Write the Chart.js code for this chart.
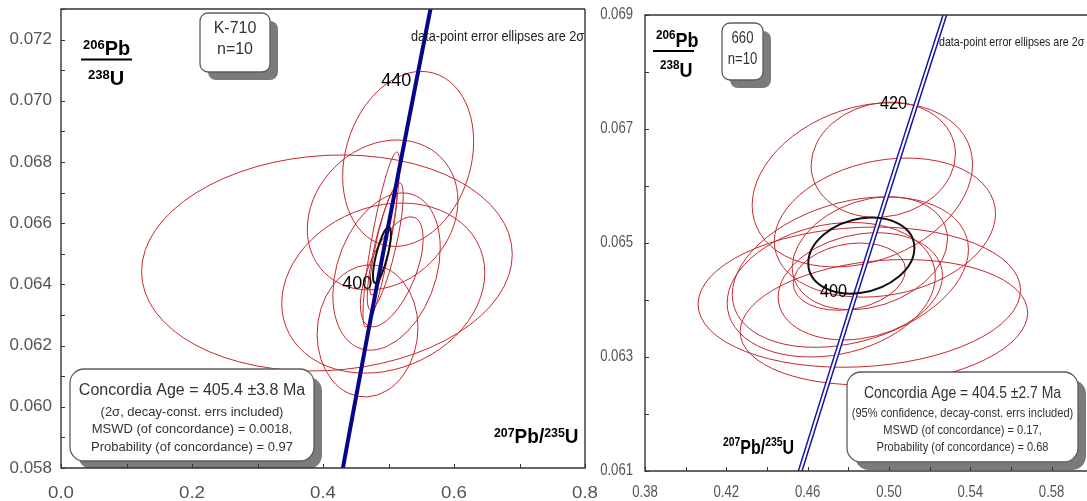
<!DOCTYPE html>
<html>
<head>
<meta charset="utf-8">
<script src="https://cdn.jsdelivr.net/npm/chart.js@4.4.1/dist/chart.umd.min.js"></script>
<style>
  html, body { margin: 0; padding: 0; background: #fff; }
  #wrap { position: relative; width: 1087px; height: 501px; overflow: hidden; }
  #leftBox { position: absolute; left: 0; top: 0; width: 600px; height: 501px; }
  #rightBox { position: absolute; left: 590px; top: 0; width: 497px; height: 501px; }
</style>
</head>
<body>
<div id="wrap">
  <div id="leftBox"><canvas id="k710"></canvas></div>
  <div id="rightBox"><canvas id="s660"></canvas></div>
</div>
<script>
// concordia curve (206Pb/238U vs 207Pb/235U), every 10 Ma
const concordiaAge = [360, 370, 380, 390, 400, 410, 420, 430, 440, 450, 460];
const concordiaX = [0.42553, 0.43964, 0.45389, 0.46828, 0.48281, 0.49749, 0.51231, 0.52728, 0.54239, 0.55766, 0.57307];
const concordiaY = [0.057434, 0.059075, 0.060720, 0.062366, 0.064016, 0.065668, 0.067322, 0.068979, 0.070638, 0.072301, 0.073965];

// K-710: 2 sigma error ellipses (centre, half widths, correlation)
const k710Cx  = [0.406, 0.530, 0.491, 0.492, 0.468, 0.497, 0.489, 0.495, 0.492, 0.505];
const k710Cy  = [0.0647, 0.0681, 0.06627, 0.06388, 0.06248, 0.06442, 0.06547, 0.06524, 0.06537, 0.06441];
const k710Sx  = [0.283, 0.100, 0.115, 0.155, 0.077, 0.082, 0.028, 0.0275, 0.0206, 0.048];
const k710Sy  = [0.00353, 0.00286, 0.00245, 0.00278, 0.00216, 0.00257, 0.00286, 0.00208, 0.00172, 0.0018];
const k710Rho = [0.08, 0.2, 0.19, 0.18, 0.05, 0.3, 0.85, 0.8, 0.85, 0.6];
const k710Age = [0.4900, 0.06496, 0.0137, 0.000915, 0.75];

// 660
const s660Cx  = [0.4972, 0.4869, 0.4980, 0.4854, 0.4975, 0.4810, 0.4906, 0.4716, 0.4859, 0.4805];
const s660Cy  = [0.06646, 0.06602, 0.06527, 0.06405, 0.06361, 0.06449, 0.06482, 0.06418, 0.06424, 0.06441];
const s660Sx  = [0.0355, 0.0542, 0.0544, 0.0793, 0.0707, 0.0581, 0.0382, 0.0512, 0.0404, 0.0276];
const s660Sy  = [0.00101, 0.00144, 0.00122, 0.00123, 0.0011, 0.00132, 0.00099, 0.00118, 0.00094, 0.00059];
const s660Rho = [0.1, 0.25, 0.2, 0.1, 0.15, 0.3, 0.25, 0.2, 0.2, 0.2];
const s660Age = [0.4864, 0.06478, 0.0261, 0.000667, 0.2];

// tick labels
const k710XTicks = ['0.0', '0.2', '0.4', '0.6', '0.8'];
const k710YTicks = ['0.058', '0.060', '0.062', '0.064', '0.066', '0.068', '0.070', '0.072'];
const s660XTicks = ['0.38', '0.42', '0.46', '0.50', '0.54', '0.58'];
const s660YTicks = ['0.061', '0.063', '0.065', '0.067', '0.069'];

const k710AgeMarks = ['400', '440'];
const s660AgeMarks = ['400', '420'];

const k710Lines = ['Concordia Age = 405.4 \u00b13.8 Ma', '(2\u03c3, decay-const. errs included)',
  'MSWD (of concordance) = 0.0018,', 'Probability (of concordance) = 0.97'];
const s660Lines = ['Concordia Age = 404.5 \u00b12.7 Ma', '(95% confidence, decay-const. errs included)',
  'MSWD (of concordance) = 0.17,', 'Probability (of concordance) = 0.68'];

function strokeEllipse(ctx, xs, ys, cx, cy, sx, sy, rho) {
  const px = xs.getPixelForValue(cx), py = ys.getPixelForValue(cy);
  const rx = xs.getPixelForValue(cx + sx) - px;
  const ry = py - ys.getPixelForValue(cy + sy);
  ctx.save();
  ctx.beginPath();
  ctx.transform(rx, -ry * rho, 0, -ry * Math.sqrt(1 - rho * rho), px, py);
  ctx.arc(0, 0, 1, 0, Math.PI * 2);
  ctx.restore();
  ctx.stroke();
}

function txt(ctx, s, x, y, font, squeeze, color, align) {
  ctx.save();
  ctx.font = font;
  ctx.fillStyle = color || '#333';
  ctx.textBaseline = 'middle';
  ctx.textAlign = align || 'center';
  ctx.translate(x, y);
  ctx.scale(squeeze, 1);
  ctx.fillText(s, 0, 0);
  ctx.restore();
}

function isoLabel(ctx, parts, x, y, supFont, mainFont, squeeze, raise) {
  ctx.save();
  ctx.fillStyle = '#000';
  ctx.textBaseline = 'alphabetic';
  ctx.textAlign = 'left';
  let cx = x;
  parts.forEach(([s, sup]) => {
    ctx.font = sup ? supFont : mainFont;
    ctx.save();
    ctx.translate(cx, sup ? y - raise : y);
    ctx.scale(squeeze, 1);
    ctx.fillText(s, 0, 0);
    ctx.restore();
    cx += ctx.measureText(s).width * squeeze;
  });
  ctx.restore();
}

function shadowBox(ctx, x, y, w, h, r, off) {
  ctx.save();
  ctx.fillStyle = '#7b7b7b';
  ctx.beginPath(); ctx.roundRect(x + off, y + off, w, h, r); ctx.fill();
  ctx.fillStyle = '#fff'; ctx.strokeStyle = '#5c5c5c'; ctx.lineWidth = 1.3;
  ctx.beginPath(); ctx.roundRect(x, y, w, h, r); ctx.fill(); ctx.stroke();
  ctx.restore();
}

// decoration plugin: ellipses under the concordia, boxes, labels and frame on top
function decor(p) {
  return {
    id: 'decor',
    beforeDatasetsDraw(chart) {
      const { ctx, chartArea: a, scales: { x, y } } = chart;
      ctx.save();
      ctx.beginPath(); ctx.rect(a.left, a.top, a.right - a.left, a.bottom - a.top); ctx.clip();
      ctx.strokeStyle = '#c42a2e'; ctx.lineWidth = 1;
      p.cx.forEach((cx, i) => strokeEllipse(ctx, x, y, cx, p.cy[i], p.sx[i], p.sy[i], p.rho[i]));
      ctx.restore();
    },
    afterDatasetsDraw(chart) {
      const { ctx, chartArea: a, scales: { x, y } } = chart;
      const o = p.ox;
      ctx.save();
      ctx.beginPath(); ctx.rect(a.left, a.top, a.right - a.left, a.bottom - a.top); ctx.clip();
      // concordia age ellipse
      ctx.strokeStyle = '#111'; ctx.lineWidth = 2;
      const e = p.age;
      strokeEllipse(ctx, x, y, e[0], e[1], e[2], e[3], e[4]);
      // age marks on concordia
      p.marks.forEach(m => {
        const i = concordiaAge.indexOf(+m);
        const px = x.getPixelForValue(concordiaX[i]), py = y.getPixelForValue(concordiaY[i]);
        txt(ctx, m, px + p.markDx, py + p.markDy, '18px "Liberation Sans"', p.markSq, '#000', 'right');
      });
      // note
      txt(ctx, 'data-point error ellipses are 2\u03c3', p.note[0] - o, p.note[1], p.note[2] + 'px "Liberation Sans"', 0.82, '#222', 'left');
      // sample box
      const b = p.box;
      shadowBox(ctx, b[0] - o, b[1], b[2], b[3], 8, 8);
      txt(ctx, p.name, b[0] - o + b[2] / 2, b[1] + 16, '16px "Liberation Sans"', p.boxSq, '#333');
      txt(ctx, 'n=10', b[0] - o + b[2] / 2, b[1] + 37, '16px "Liberation Sans"', p.boxSq, '#333');
      // concordia age box
      const c = p.ageBox;
      shadowBox(ctx, c[0] - o, c[1], c[2], c[3], 14, 8);
      const mx = c[0] - o + c[2] / 2;
      p.lines.forEach((s, i) => {
        txt(ctx, s, mx, p.lineY[i], (i === 0 ? p.fs[0] : p.fs[1]) + 'px "Liberation Sans"', p.lineSq, '#333');
      });
      ctx.restore();

      // axis titles
      const sup = 'bold 13px "Liberation Sans"', big = 'bold 20px "Liberation Sans"';
      const t = p.yTitle;
      isoLabel(ctx, [['206', 1], ['Pb', 0]], t[0] - o, t[1], sup, big, p.titleSq, p.raise);
      isoLabel(ctx, [['238', 1], ['U', 0]], t[2] - o, t[3], sup, big, p.titleSq, p.raise);
      ctx.save();
      ctx.strokeStyle = '#000'; ctx.lineWidth = 2;
      ctx.beginPath(); ctx.moveTo(t[4] - o, t[5]); ctx.lineTo(t[6] - o, t[5]); ctx.stroke();
      ctx.restore();
      isoLabel(ctx, [['207', 1], ['Pb/', 0], ['235', 1], ['U', 0]], p.xTitle[0] - o, p.xTitle[1], sup, big, p.xTitleSq, p.raise);

      // tick labels at the scale's ticks
      x.ticks.forEach(tk => {
        const s = tk.value.toFixed(p.xDec);
        if (p.xLabels.includes(s)) txt(ctx, s, x.getPixelForValue(tk.value), p.xLabelY, p.tickFont, p.xTickSq, '#555');
      });
      y.ticks.forEach(tk => {
        const s = tk.value.toFixed(3);
        if (p.yLabels.includes(s)) txt(ctx, s, a.left - p.yGap, y.getPixelForValue(tk.value), p.tickFont, p.yTickSq, '#555', 'right');
      });

      // frame and inward ticks
      ctx.save();
      ctx.strokeStyle = '#333'; ctx.lineWidth = 1.4;
      ctx.beginPath();
      ctx.moveTo(a.right, a.top); ctx.lineTo(a.left, a.top); ctx.lineTo(a.left, a.bottom); ctx.lineTo(a.right, a.bottom);
      if (p.rightEdge) ctx.lineTo(a.right, a.top);
      ctx.stroke();
      ctx.lineWidth = 1;
      ctx.beginPath();
      x.ticks.forEach(tk => {
        const px = Math.round(x.getPixelForValue(tk.value)) + 0.5;
        ctx.moveTo(px, a.bottom); ctx.lineTo(px, a.bottom - 4);
      });
      y.ticks.forEach(tk => {
        const py = Math.round(y.getPixelForValue(tk.value)) + 0.5;
        ctx.moveTo(a.left, py); ctx.lineTo(a.left + 4, py);
      });
      ctx.stroke();
      ctx.restore();
    }
  };
}

function concordiaChart(id, s) {
  return new Chart(document.getElementById(id), {
    type: 'scatter',
    data: { datasets: s.datasets },
    options: {
      responsive: true,
      maintainAspectRatio: false,
      animation: false,
      events: [],
      layout: { padding: { top: s.padTop, right: s.padRight, left: 0, bottom: 0 } },
      plugins: { legend: { display: false }, tooltip: { enabled: false } },
      scales: {
        x: {
          type: 'linear', min: s.xMin, max: s.xMax,
          grid: { display: false }, border: { display: false },
          ticks: { display: false, stepSize: s.xStep, includeBounds: false, autoSkip: false },
          afterFit(sc) { sc.height = s.xHeight; sc.paddingLeft = 0; sc.paddingRight = 0; }
        },
        y: {
          type: 'linear', min: s.yMin, max: s.yMax,
          grid: { display: false }, border: { display: false },
          ticks: { display: false, stepSize: s.yStep, includeBounds: false, autoSkip: false },
          afterFit(sc) { sc.width = s.yWidth; sc.paddingTop = 0; sc.paddingBottom = 0; }
        }
      }
    },
    plugins: [s.plugin]
  });
}

const concordiaPts = concordiaX.map((v, i) => ({ x: v, y: concordiaY[i] }));

concordiaChart('k710', {
  datasets: [
    { data: concordiaPts, showLine: true, borderColor: '#06068c', borderWidth: 4, pointRadius: 0, clip: 0 }
  ],
  xMin: 0, xMax: 0.8, xStep: 0.1,
  yMin: 0.058, yMax: 0.073, yStep: 0.001,
  padTop: 9, padRight: 15, yWidth: 61, xHeight: 33,
  plugin: decor({
    ox: 0, cx: k710Cx, cy: k710Cy, sx: k710Sx, sy: k710Sy, rho: k710Rho, age: k710Age,
    xDec: 1, xLabels: k710XTicks, yLabels: k710YTicks,
    tickFont: '17px "Liberation Sans"', xTickSq: 1.1, yTickSq: 1, xLabelY: 493, yGap: 9,
    marks: k710AgeMarks, markDx: -5, markDy: 0, markSq: 1,
    note: [411, 37, 15.5], name: 'K-710', box: [200, 13, 70, 59], boxSq: 1,
    ageBox: [70, 369, 244, 92], lines: k710Lines, lineY: [391, 412, 429, 447], fs: [16, 13], lineSq: 1,
    yTitle: [83, 55, 88, 85, 81, 59.5, 132], xTitle: [494, 443], titleSq: 1, xTitleSq: 0.95, raise: 6,
    rightEdge: true
  })
});

concordiaChart('s660', {
  datasets: [
    { data: concordiaPts, showLine: true, borderColor: '#fff', borderWidth: 2, pointRadius: 0, clip: 0, order: 1 },
    { data: concordiaPts, showLine: true, borderColor: '#1616a0', borderWidth: 5, pointRadius: 0, clip: 0, order: 2 }
  ],
  xMin: 0.38, xMax: 0.5974, xStep: 0.02,
  yMin: 0.061, yMax: 0.069, yStep: 0.001,
  padTop: 15, padRight: 0, yWidth: 55, xHeight: 30,
  plugin: decor({
    ox: 590, cx: s660Cx, cy: s660Cy, sx: s660Sx, sy: s660Sy, rho: s660Rho, age: s660Age,
    xDec: 2, xLabels: s660XTicks, yLabels: s660YTicks,
    tickFont: '16px "Liberation Sans"', xTickSq: 0.82, yTickSq: 0.82, xLabelY: 493, yGap: 12,
    marks: s660AgeMarks, markDx: -7, markDy: -7, markSq: 0.9,
    note: [939, 42, 13], name: '660', box: [722, 23, 41, 57], boxSq: 0.82,
    ageBox: [847, 372, 231, 90], lines: s660Lines, lineY: [393, 413, 430, 447], fs: [17, 13.5], lineSq: 0.82,
    yTitle: [656, 47, 660, 77, 653, 51, 694], xTitle: [723, 454], titleSq: 0.9, xTitleSq: 0.8, raise: 8,
    rightEdge: false
  })
});
</script>
</body>
</html>
